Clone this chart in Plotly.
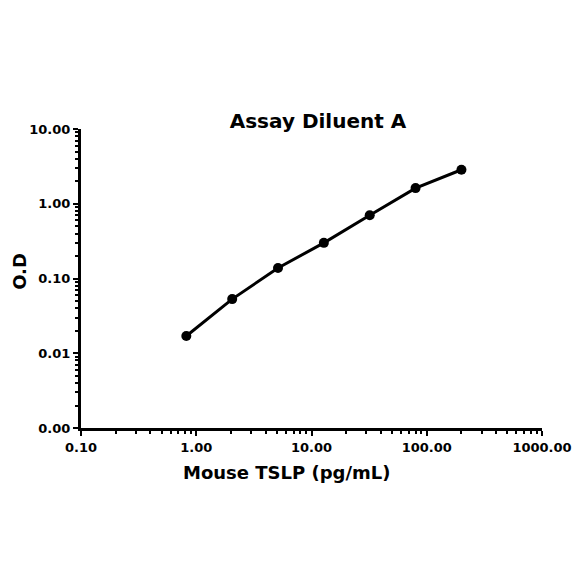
import plotly.graph_objects as go

# standard curve points
conc = [0.82, 2.05, 5.12, 12.8, 32.0, 80.0, 200.0]
od = [0.017, 0.053, 0.138, 0.30, 0.70, 1.62, 2.85]

x_ticks = [0.1, 1, 10, 100, 1000]
x_labels = ["0.10", "1.00", "10.00", "100.00", "1000.00"]
y_ticks = [0.001, 0.01, 0.1, 1, 10]
y_labels = ["0.00", "0.01", "0.10", "1.00", "10.00"]

FONT = "DejaVu Sans"

fig = go.Figure()

fig.add_trace(go.Scatter(
    x=conc,
    y=od,
    mode="lines+markers",
    line=dict(color="black", width=3),
    marker=dict(color="black", size=10),
    showlegend=False
))

axis_font = dict(family=FONT, size=13, color="black", weight="bold")

fig.update_xaxes(
    type="log",
    range=[-1, 3],
    tickvals=x_ticks,
    ticktext=x_labels,
    tickfont=axis_font,
    ticks="outside",
    ticklen=5,
    tickwidth=2,
    tickcolor="black",
    minor=dict(ticks="outside", ticklen=3, tickwidth=2, tickcolor="black", dtick="D1"),
    showline=True,
    linecolor="black",
    linewidth=3,
    showgrid=False,
    zeroline=False
)

fig.update_yaxes(
    type="log",
    range=[-3, 1],
    tickvals=y_ticks,
    ticktext=y_labels,
    tickfont=axis_font,
    ticks="outside",
    ticklen=5,
    tickwidth=2,
    tickcolor="black",
    minor=dict(ticks="outside", ticklen=3, tickwidth=2, tickcolor="black", dtick="D1"),
    showline=True,
    linecolor="black",
    linewidth=3,
    showgrid=False,
    zeroline=False
)

title_font = dict(family=FONT, size=18, color="black", weight="bold")

# axis titles as annotations so they can sit where the original has them
fig.add_annotation(
    text="Mouse TSLP (pg/mL)",
    xref="paper", yref="paper",
    x=0.445, y=-0.15,
    xanchor="center", yanchor="middle",
    showarrow=False,
    font=title_font
)
fig.add_annotation(
    text="O.D",
    xref="paper", yref="paper",
    x=-0.135, y=0.525,
    xanchor="center", yanchor="middle",
    textangle=-90,
    showarrow=False,
    font=title_font
)

# page body adds 8px, so the figure is drawn 8px smaller
fig.update_layout(
    width=576,
    height=576,
    margin=dict(l=73, r=42, t=121, b=156),
    paper_bgcolor="white",
    plot_bgcolor="white",
    title=dict(
        text="Assay Diluent A",
        x=310 / 576,
        xanchor="center",
        y=1 - 113 / 576,
        yanchor="middle",
        font=dict(family=FONT, size=20, color="black", weight="bold")
    )
)

fig.write_html("out.html")
